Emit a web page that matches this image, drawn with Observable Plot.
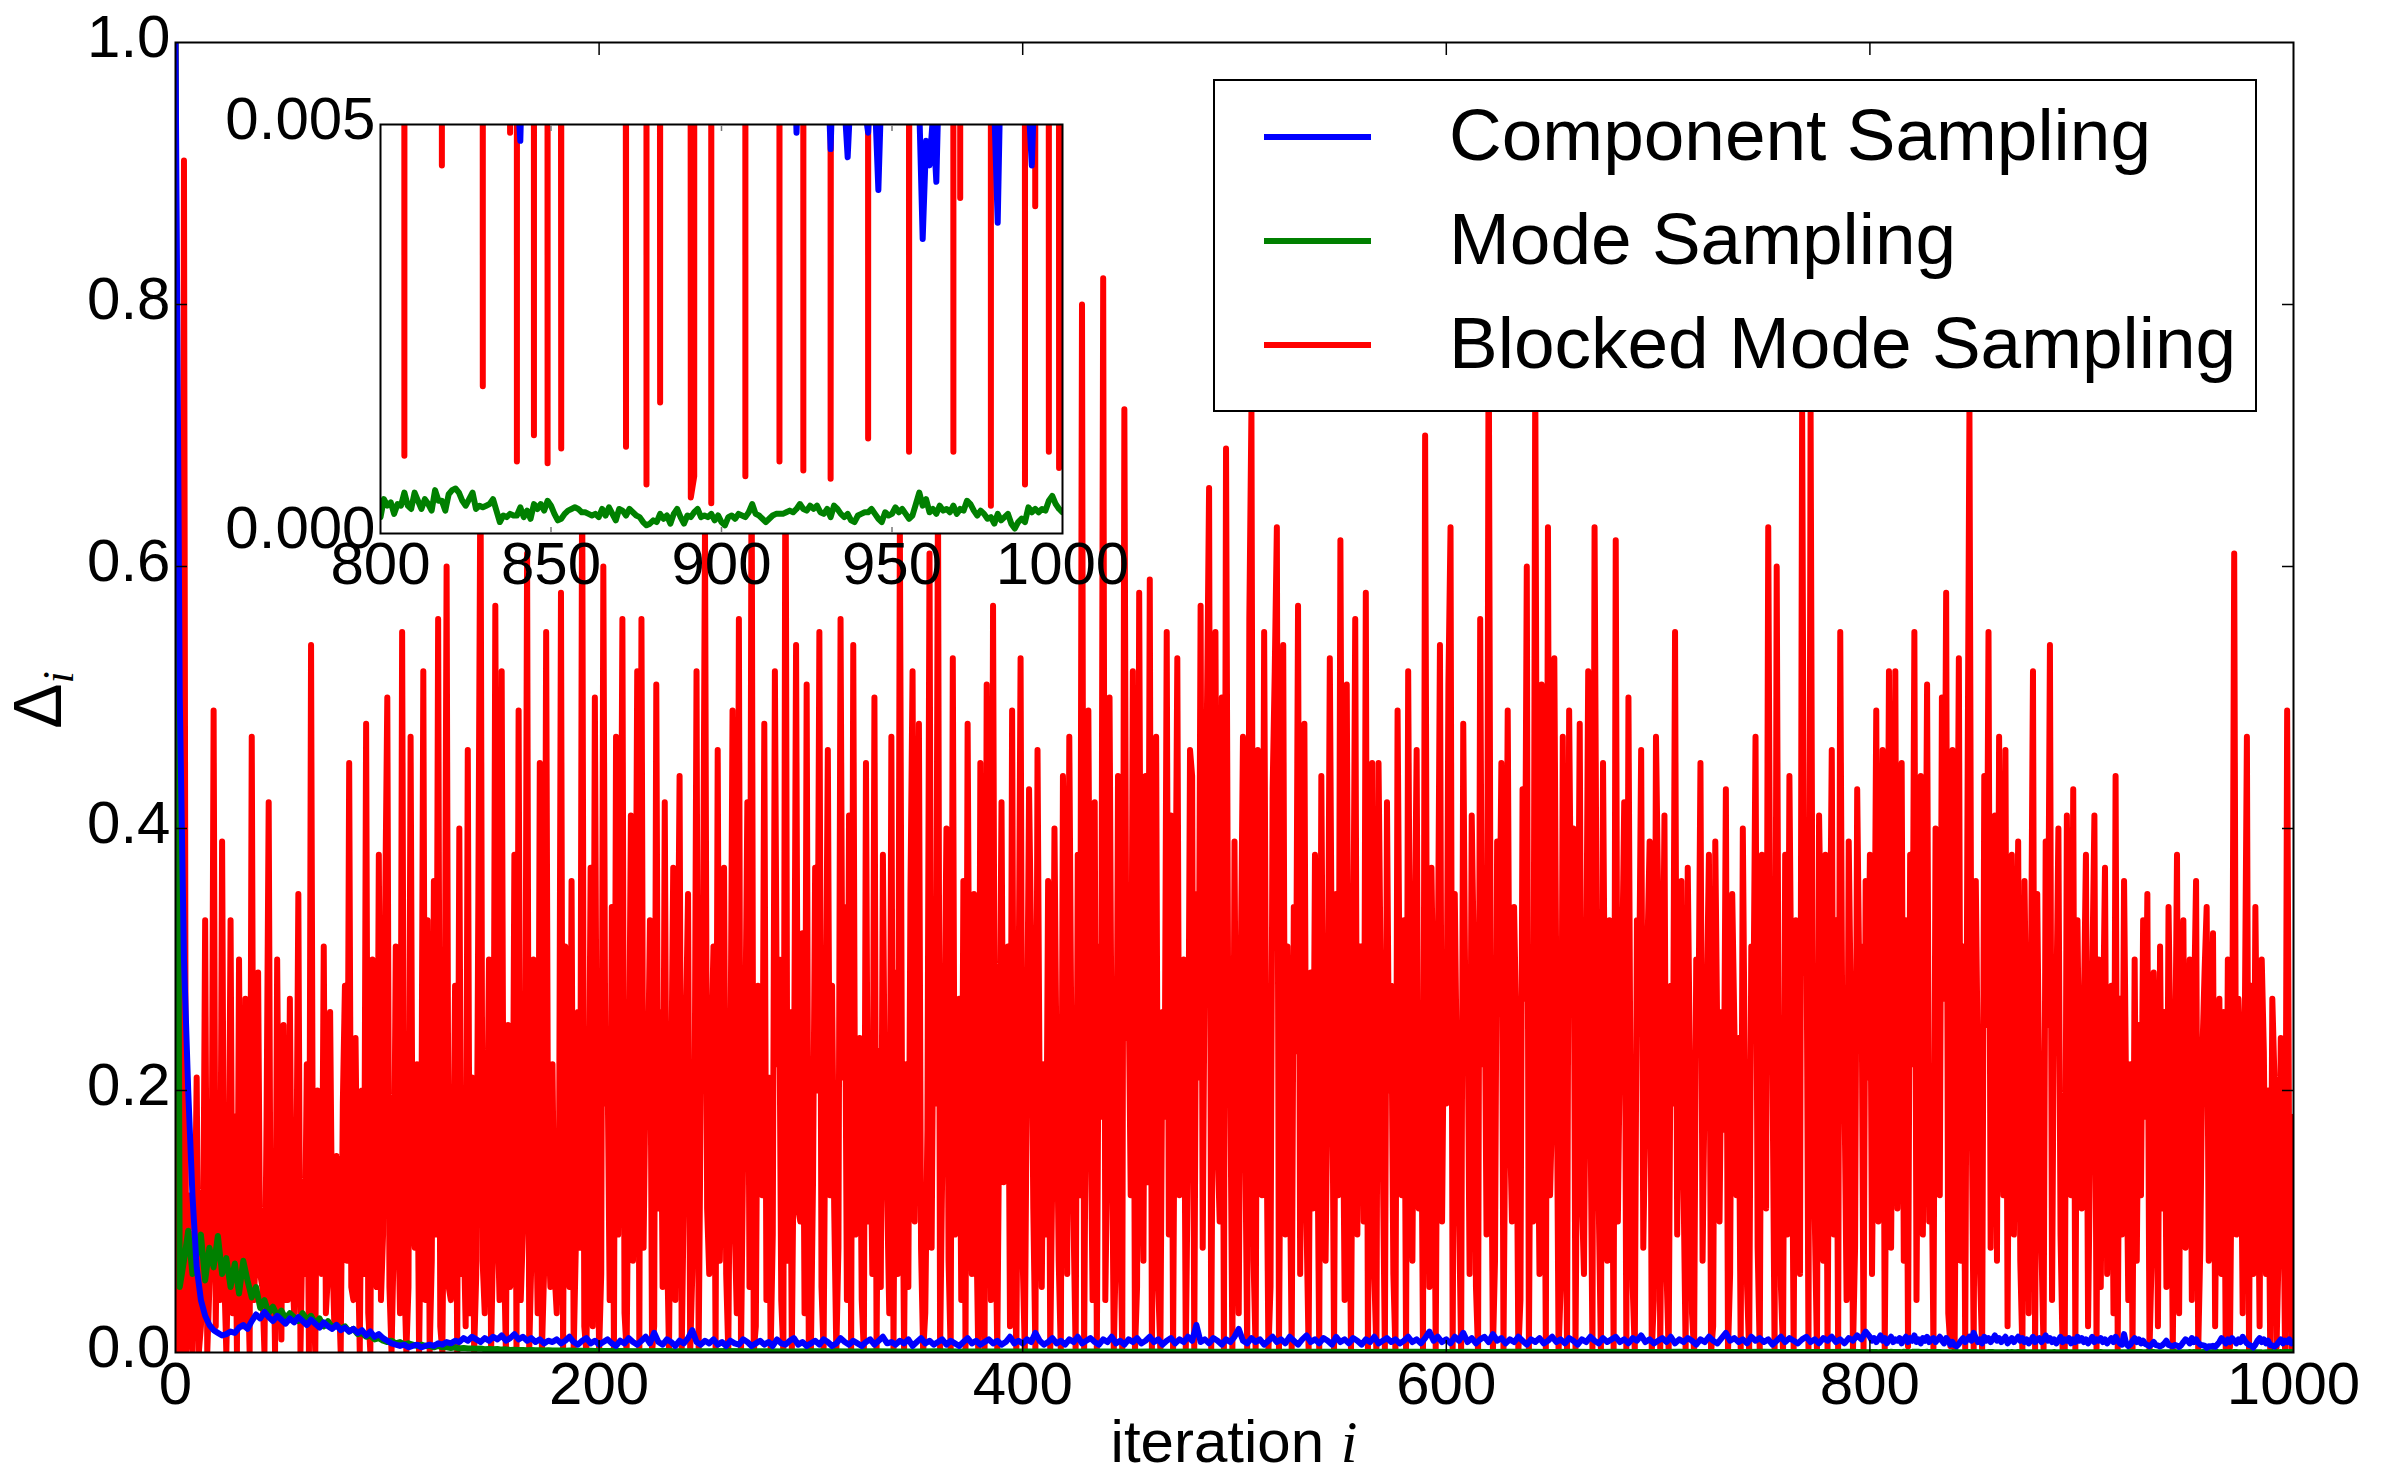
<!DOCTYPE html>
<html>
<head>
<meta charset="utf-8">
<script src="https://cdn.jsdelivr.net/npm/d3@7"></script>
<script src="https://cdn.jsdelivr.net/npm/@observablehq/plot@0.6"></script>
<style>
  html, body { margin: 0; padding: 0; background: #fff; }
  #wrap { position: relative; width: 2394px; height: 1474px; overflow: hidden; font-family: "Liberation Sans", Arial, sans-serif; color: #000; }
  #wrap > svg { position: absolute; }
  .legend { position: absolute; box-sizing: border-box; border: 2px solid #000; background: #fff; }
  .legend .row { position: absolute; left: 0; height: 0; }
  .legend .swatch { position: absolute; height: 6px; width: 107px; margin-top: -3px; }
  .legend .lab { position: absolute; font-size: 73px; line-height: 73px; margin-top: -39px; white-space: nowrap; }
  .xlabel { position: absolute; font-size: 60px; line-height: 44px; white-space: nowrap; transform: translateX(-50%); }
  .ylabel { position: absolute; font-size: 68px; line-height: 68px; white-space: nowrap; transform: translate(-50%, -50%) rotate(-90deg); }
  .mi { font-family: "Liberation Serif", "DejaVu Serif", serif; font-style: italic; }
</style>
</head>
<body>
<div id="wrap"></div>
<script>
// ---------------- DATA ----------------
const seriesNames = ["Component Sampling", "Mode Sampling", "Blocked Mode Sampling"];
const seriesColors = ["#0000ff", "#008000", "#ff0000"];
const xTicks = [0, 200, 400, 600, 800, 1000];
const yTicks = [0, 0.2, 0.4, 0.6, 0.8, 1.0];
const insetXTicks = [800, 850, 900, 950, 1000];
const insetYTicks = [0, 0.005];
const xLabel = "iteration";
const xLabelVar = "i";
const yLabelSym = "Δ";
const yLabelSub = "i";

// Blocked Mode Sampling, iterations 0..799 (one value per iteration, 20 per row)
const redEarly = [
  1.0, 0.0, 0.03, 0.0, 0.91, 0.0, 0.12, 0.02, 0.0, 0.08, 0.21, 0.0, 0.02, 0.06, 0.33, 0.0, 0.05, 0.09, 0.49, 0.02,
  0.15, 0.04, 0.39, 0.06, 0.0, 0.08, 0.33, 0.03, 0.18, 0.0, 0.30, 0.05, 0.02, 0.27, 0.07, 0.0, 0.47, 0.04, 0.08, 0.29,
  0.06, 0.05, 0.0, 0.18, 0.42, 0.03, 0.12, 0.0, 0.30, 0.09, 0.01, 0.25, 0.04, 0.04, 0.27, 0.07, 0.03, 0.11, 0.35, 0.0,
  0.10, 0.06, 0.22, 0.0, 0.54, 0.05, 0.0, 0.20, 0.07, 0.06, 0.31, 0.03, 0.06, 0.26, 0.08, 0.02, 0.15, 0.05, 0.0, 0.19,
  0.28, 0.07, 0.45, 0.05, 0.04, 0.24, 0.09, 0.0, 0.20, 0.06, 0.48, 0.03, 0.0, 0.30, 0.08, 0.05, 0.38, 0.04, 0.09, 0.34,
  0.50, 0.05, 0.0, 0.08, 0.31, 0.12, 0.03, 0.55, 0.06, 0.0, 0.05, 0.47, 0.10, 0.08, 0.22, 0.0, 0.12, 0.52, 0.04, 0.33,
  0.0, 0.07, 0.36, 0.09, 0.56, 0.02, 0.0, 0.18, 0.60, 0.05, 0.04, 0.11, 0.28, 0.0, 0.40, 0.06, 0.10, 0.02, 0.46, 0.03,
  0.21, 0.0, 0.06, 0.35, 0.69, 0.07, 0.03, 0.14, 0.30, 0.0, 0.09, 0.57, 0.11, 0.04, 0.52, 0.08, 0.0, 0.25, 0.05, 0.06,
  0.38, 0.0, 0.49, 0.04, 0.09, 0.12, 0.61, 0.0, 0.07, 0.30, 0.14, 0.03, 0.45, 0.0, 0.06, 0.55, 0.10, 0.05, 0.22, 0.06,
  0.03, 0.10, 0.58, 0.0, 0.31, 0.12, 0.05, 0.36, 0.0, 0.08, 0.26, 0.08, 0.68, 0.02, 0.0, 0.13, 0.37, 0.02, 0.50, 0.15,
  0.0, 0.06, 0.60, 0.19, 0.22, 0.04, 0.34, 0.0, 0.47, 0.09, 0.24, 0.56, 0.03, 0.0, 0.18, 0.41, 0.07, 0.21, 0.52, 0.0,
  0.56, 0.08, 0.22, 0.20, 0.33, 0.0, 0.02, 0.51, 0.11, 0.26, 0.05, 0.42, 0.09, 0.0, 0.19, 0.37, 0.04, 0.24, 0.44, 0.0,
  0.12, 0.25, 0.35, 0.0, 0.06, 0.15, 0.52, 0.0, 0.20, 0.29, 0.63, 0.11, 0.06, 0.23, 0.31, 0.0, 0.46, 0.07, 0.18, 0.37,
  0.06, 0.0, 0.21, 0.49, 0.10, 0.03, 0.56, 0.0, 0.15, 0.24, 0.42, 0.05, 0.70, 0.0, 0.02, 0.28, 0.19, 0.12, 0.48, 0.04,
  0.21, 0.0, 0.09, 0.52, 0.22, 0.30, 0.04, 0.0, 0.73, 0.07, 0.26, 0.0, 0.18, 0.54, 0.11, 0.10, 0.32, 0.03, 0.51, 0.0,
  0.0, 0.13, 0.37, 0.20, 0.55, 0.05, 0.0, 0.24, 0.46, 0.12, 0.28, 0.11, 0.0, 0.08, 0.56, 0.21, 0.34, 0.04, 0.41, 0.0,
  0.54, 0.09, 0.22, 0.24, 0.04, 0.0, 0.45, 0.10, 0.19, 0.06, 0.50, 0.0, 0.23, 0.05, 0.38, 0.17, 0.12, 0.03, 0.47, 0.0,
  0.29, 0.06, 0.63, 0.20, 0.0, 0.22, 0.05, 0.35, 0.52, 0.10, 0.25, 0.48, 0.08, 0.0, 0.03, 0.17, 0.61, 0.08, 0.31, 0.19,
  0.66, 0.0, 0.14, 0.23, 0.40, 0.07, 0.0, 0.53, 0.09, 0.21, 0.27, 0.04, 0.36, 0.0, 0.48, 0.18, 0.06, 0.35, 0.11, 0.0,
  0.45, 0.09, 0.0, 0.51, 0.20, 0.04, 0.57, 0.12, 0.0, 0.20, 0.42, 0.13, 0.24, 0.31, 0.02, 0.49, 0.08, 0.0, 0.25, 0.53,
  0.07, 0.0, 0.22, 0.43, 0.31, 0.11, 0.0, 0.46, 0.19, 0.05, 0.22, 0.09, 0.36, 0.0, 0.14, 0.40, 0.21, 0.07, 0.0, 0.44,
  0.33, 0.06, 0.47, 0.23, 0.10, 0.0, 0.38, 0.12, 0.80, 0.0, 0.25, 0.49, 0.20, 0.04, 0.42, 0.0, 0.31, 0.18, 0.82, 0.04,
  0.16, 0.50, 0.21, 0.0, 0.08, 0.44, 0.11, 0.0, 0.72, 0.24, 0.28, 0.12, 0.52, 0.0, 0.05, 0.58, 0.19, 0.07, 0.44, 0.13,
  0.59, 0.0, 0.22, 0.47, 0.05, 0.0, 0.26, 0.18, 0.55, 0.09, 0.41, 0.0, 0.29, 0.53, 0.12, 0.24, 0.30, 0.0, 0.15, 0.46,
  0.44, 0.0, 0.35, 0.21, 0.57, 0.08, 0.32, 0.49, 0.66, 0.0, 0.28, 0.55, 0.16, 0.10, 0.50, 0.0, 0.69, 0.27, 0.21, 0.0,
  0.39, 0.12, 0.03, 0.30, 0.47, 0.18, 0.0, 0.56, 0.72, 0.07, 0.0, 0.46, 0.25, 0.12, 0.55, 0.20, 0.0, 0.05, 0.43, 0.52,
  0.63, 0.0, 0.26, 0.54, 0.09, 0.31, 0.17, 0.0, 0.34, 0.23, 0.57, 0.06, 0.28, 0.48, 0.10, 0.0, 0.29, 0.11, 0.38, 0.20,
  0.0, 0.44, 0.19, 0.07, 0.22, 0.53, 0.27, 0.0, 0.35, 0.12, 0.62, 0.24, 0.04, 0.51, 0.18, 0.0, 0.27, 0.56, 0.09, 0.31,
  0.31, 0.10, 0.58, 0.0, 0.25, 0.45, 0.06, 0.0, 0.45, 0.29, 0.15, 0.0, 0.42, 0.20, 0.28, 0.06, 0.0, 0.49, 0.26, 0.12,
  0.33, 0.0, 0.52, 0.22, 0.07, 0.30, 0.46, 0.11, 0.25, 0.0, 0.70, 0.19, 0.05, 0.37, 0.24, 0.0, 0.29, 0.54, 0.10, 0.28,
  0.19, 0.51, 0.63, 0.0, 0.35, 0.21, 0.11, 0.0, 0.48, 0.26, 0.27, 0.06, 0.41, 0.30, 0.05, 0.0, 0.56, 0.22, 0.32, 0.09,
  0.80, 0.24, 0.0, 0.07, 0.39, 0.28, 0.45, 0.0, 0.22, 0.49, 0.18, 0.10, 0.34, 0.25, 0.0, 0.04, 0.43, 0.27, 0.60, 0.0,
  0.28, 0.10, 0.75, 0.23, 0.06, 0.51, 0.29, 0.0, 0.63, 0.12, 0.19, 0.53, 0.26, 0.0, 0.05, 0.47, 0.21, 0.0, 0.49, 0.30,
  0.40, 0.0, 0.24, 0.48, 0.12, 0.06, 0.27, 0.52, 0.20, 0.0, 0.63, 0.31, 0.11, 0.0, 0.45, 0.22, 0.07, 0.33, 0.26, 0.0,
  0.62, 0.10, 0.24, 0.29, 0.42, 0.0, 0.50, 0.18, 0.05, 0.0, 0.33, 0.27, 0.46, 0.08, 0.18, 0.31, 0.39, 0.0, 0.04, 0.47,
  0.35, 0.0, 0.21, 0.41, 0.06, 0.0, 0.28, 0.19, 0.55, 0.09, 0.26, 0.36, 0.13, 0.0, 0.37, 0.22, 0.03, 0.0, 0.30, 0.24,
  0.45, 0.07, 0.21, 0.27, 0.38, 0.0, 0.02, 0.39, 0.23, 0.10, 0.26, 0.17, 0.43, 0.0, 0.06, 0.35, 0.25, 0.12, 0.24, 0.0,
  0.40, 0.20, 0.05, 0.0, 0.31, 0.26, 0.47, 0.08, 0.0, 0.38, 0.22, 0.11, 0.63, 0.28, 0.22, 0.0, 0.60, 0.19, 0.05, 0.0,
  0.38, 0.09, 0.44, 0.25, 0.0, 0.33, 0.21, 0.06, 0.72, 0.29, 0.36, 0.0, 0.72, 0.24, 0.10, 0.0, 0.41, 0.30, 0.07, 0.38,
  0.0, 0.27, 0.46, 0.09, 0.33, 0.0, 0.55, 0.23, 0.20, 0.04, 0.39, 0.26, 0.0, 0.08, 0.43, 0.28, 0.31, 0.0, 0.36, 0.21
];
// Blocked Mode Sampling, iterations 800..1000
const redLate = [
  0.38, 0.06, 0.24, 0.49, 0.10, 0.28, 0.46, 0.00095, 0.21, 0.52,
  0.08, 0.30, 0.52, 0.11, 0.19, 0.45, 0.07, 0.33, 0.0045, 0.38,
  0.22, 0.55, 0.04, 0.29, 0.44, 0.09, 0.25, 0.51, 0.10, 0.18,
  0.0018, 0.40, 0.24, 0.12, 0.50, 0.27, 0.58, 0.03, 0.0049, 0.46,
  0.00088, 0.26, 0.53, 0.07, 0.31, 0.0012, 0.39, 0.72, 0.20, 0.00086,
  0.36, 0.21, 0.06, 0.00104, 0.44, 0.25, 0.55, 0.08, 0.29, 0.41,
  0.07, 0.47, 0.23, 0.12, 0.46, 0.02, 0.30, 0.38, 0.09, 0.24,
  0.39, 0.07, 0.00106, 0.36, 0.22, 0.03, 0.27, 0.52, 0.0006, 0.35,
  0.19, 0.08, 0.0016, 0.39, 0.25, 0.54, 0.04, 0.30, 0.26, 0.40,
  0.09, 0.00044, 0.0007, 0.41, 0.21, 0.12, 0.43, 0.00037, 0.33, 0.18,
  0.11, 0.26, 0.38, 0.02, 0.16, 0.29, 0.41, 0.0007, 0.30, 0.05,
  0.24, 0.37, 0.06, 0.20, 0.28, 0.03, 0.44, 0.00088, 0.27, 0.09,
  0.36, 0.19, 0.04, 0.22, 0.00077, 0.30, 0.07, 0.25, 0.12, 0.33,
  0.18, 0.35, 0.00067, 0.07, 0.29, 0.21, 0.02, 0.31, 0.11, 0.26,
  0.05, 0.34, 0.22, 0.00116, 0.19, 0.38, 0.03, 0.24, 0.33, 0.08,
  0.20, 0.30, 0.04, 0.26, 0.36, 0.0010, 0.08, 0.23, 0.29, 0.34,
  0.07, 0.21, 0.32, 0.02, 0.21, 0.27, 0.06, 0.26, 0.0010, 0.30,
  0.0041, 0.19, 0.61, 0.09, 0.27, 0.22, 0.03, 0.25, 0.47, 0.00034,
  0.28, 0.06, 0.34, 0.18, 0.02, 0.30, 0.23, 0.06, 0.20, 0.0006,
  0.27, 0.21, 0.0040, 0.08, 0.24, 0.17, 0.0010, 0.49, 0.12, 0.0008,
  0.18
];

// Component Sampling, iterations 0,2,4,...,798
const blueEarly = [
  1.0, 0.5, 0.3, 0.2, 0.12, 0.065, 0.04, 0.028, 0.021, 0.017,
  0.015, 0.013, 0.014, 0.016, 0.015, 0.019, 0.021, 0.018, 0.024, 0.029,
  0.026, 0.031, 0.027, 0.024, 0.028, 0.025, 0.022, 0.026, 0.023, 0.027,
  0.024, 0.021, 0.025, 0.022, 0.019, 0.023, 0.020, 0.018, 0.021, 0.017,
  0.019, 0.016, 0.018, 0.015, 0.017, 0.013, 0.016, 0.012, 0.014, 0.011,
  0.009, 0.007, 0.006, 0.005, 0.006, 0.004, 0.005, 0.006, 0.004, 0.005,
  0.006, 0.005, 0.007, 0.006, 0.008, 0.007, 0.009, 0.008, 0.011, 0.009,
  0.012, 0.010, 0.008, 0.011, 0.009, 0.012, 0.010, 0.013, 0.009, 0.011,
  0.014, 0.010, 0.012, 0.009, 0.011, 0.008, 0.010, 0.007, 0.009, 0.008,
  0.010, 0.007, 0.009, 0.012, 0.008, 0.006, 0.009, 0.011, 0.007, 0.009,
  0.006, 0.008, 0.010, 0.007, 0.005, 0.009, 0.007, 0.011, 0.008, 0.006,
  0.009, 0.012, 0.007, 0.015, 0.008, 0.006, 0.010, 0.008, 0.005, 0.009,
  0.007, 0.011, 0.017, 0.008, 0.006, 0.009, 0.007, 0.010, 0.006, 0.008,
  0.005, 0.009, 0.007, 0.006, 0.010, 0.008, 0.005, 0.007, 0.009, 0.006,
  0.008, 0.005, 0.010, 0.007, 0.006, 0.009, 0.011, 0.006, 0.008, 0.005,
  0.007, 0.009, 0.006, 0.010, 0.008, 0.005, 0.007, 0.011, 0.008, 0.006,
  0.009, 0.007, 0.005, 0.008, 0.010, 0.006, 0.009, 0.012, 0.007, 0.008,
  0.006, 0.009, 0.007, 0.010, 0.005, 0.008, 0.011, 0.007, 0.009, 0.006,
  0.008, 0.010, 0.006, 0.009, 0.007, 0.005, 0.008, 0.011, 0.007, 0.009,
  0.006, 0.008, 0.010, 0.007, 0.009, 0.006, 0.008, 0.012, 0.007, 0.009,
  0.007, 0.010, 0.008, 0.015, 0.009, 0.006, 0.008, 0.011, 0.007, 0.009,
  0.006, 0.010, 0.008, 0.012, 0.007, 0.009, 0.011, 0.008, 0.006, 0.010,
  0.008, 0.012, 0.007, 0.009, 0.006, 0.010, 0.008, 0.011, 0.007, 0.009,
  0.012, 0.008, 0.010, 0.006, 0.009, 0.011, 0.007, 0.010, 0.008, 0.012,
  0.009, 0.021, 0.008, 0.010, 0.007, 0.011, 0.009, 0.006, 0.010, 0.008,
  0.012, 0.018, 0.009, 0.007, 0.011, 0.008, 0.010, 0.006, 0.009, 0.012,
  0.008, 0.010, 0.007, 0.012, 0.009, 0.006, 0.010, 0.013, 0.008, 0.010,
  0.007, 0.011, 0.009, 0.006, 0.012, 0.008, 0.010, 0.007, 0.011, 0.009,
  0.006, 0.010, 0.008, 0.012, 0.007, 0.009, 0.011, 0.008, 0.010, 0.007,
  0.009, 0.012, 0.008, 0.010, 0.007, 0.011, 0.016, 0.009, 0.012, 0.008,
  0.010, 0.007, 0.012, 0.009, 0.015, 0.008, 0.011, 0.007, 0.010, 0.012,
  0.008, 0.014, 0.009, 0.011, 0.007, 0.010, 0.008, 0.012, 0.009, 0.006,
  0.010, 0.008, 0.011, 0.007, 0.009, 0.012, 0.008, 0.010, 0.007, 0.011,
  0.009, 0.006, 0.010, 0.008, 0.012, 0.009, 0.007, 0.011, 0.008, 0.010,
  0.012, 0.008, 0.010, 0.007, 0.011, 0.009, 0.013, 0.008, 0.010, 0.007,
  0.009, 0.011, 0.008, 0.012, 0.007, 0.010, 0.008, 0.011, 0.009, 0.006,
  0.010, 0.008, 0.012, 0.009, 0.007, 0.011, 0.015, 0.009, 0.011, 0.008,
  0.010, 0.007, 0.012, 0.009, 0.011, 0.008, 0.010, 0.006, 0.009, 0.012,
  0.008, 0.011, 0.009, 0.007, 0.010, 0.012, 0.008, 0.010, 0.007, 0.011,
  0.009, 0.012, 0.008, 0.010, 0.007, 0.011, 0.009, 0.013, 0.010, 0.016
];
// Component Sampling, iterations 800..1000
const blueLate = [
  0.012, 0.009, 0.011, 0.008, 0.010, 0.013, 0.009, 0.011, 0.007, 0.010,
  0.012, 0.008, 0.010, 0.009, 0.011, 0.007, 0.010, 0.012, 0.008, 0.011,
  0.009, 0.013, 0.008, 0.010, 0.007, 0.011, 0.009, 0.012, 0.008, 0.010,
  0.011, 0.008, 0.010, 0.012, 0.009, 0.007, 0.011, 0.009, 0.006, 0.008,
  0.0055, 0.0048, 0.0065, 0.009, 0.011, 0.008, 0.010, 0.012, 0.009, 0.015,
  0.011, 0.008, 0.010, 0.007, 0.012, 0.009, 0.011, 0.008, 0.010, 0.013,
  0.009, 0.011, 0.008, 0.010, 0.012, 0.007, 0.009, 0.011, 0.008, 0.010,
  0.012, 0.009, 0.011, 0.008, 0.010, 0.007, 0.009, 0.012, 0.008, 0.010,
  0.011, 0.008, 0.010, 0.013, 0.009, 0.011, 0.008, 0.010, 0.007, 0.009,
  0.012, 0.008, 0.010, 0.009, 0.011, 0.007, 0.010, 0.008, 0.012, 0.009,
  0.011, 0.008, 0.010, 0.007, 0.009, 0.012, 0.008, 0.010, 0.009, 0.011,
  0.008, 0.010, 0.007, 0.009, 0.011, 0.008, 0.012, 0.009, 0.007, 0.006,
  0.014, 0.0065, 0.0049, 0.0062, 0.009, 0.011, 0.008, 0.010, 0.007, 0.009,
  0.0065, 0.0058, 0.0047, 0.0061, 0.008, 0.0056, 0.0053, 0.0046, 0.0055, 0.007,
  0.009, 0.0058, 0.0052, 0.0049, 0.0057, 0.0053, 0.0042, 0.0056, 0.008, 0.010,
  0.009, 0.007, 0.011, 0.008, 0.010, 0.0075, 0.006, 0.0055, 0.0052, 0.0036,
  0.0048, 0.0045, 0.0051, 0.0043, 0.006, 0.008, 0.011, 0.009, 0.007, 0.010,
  0.008, 0.011, 0.009, 0.007, 0.010, 0.008, 0.012, 0.009, 0.007, 0.0058,
  0.0052, 0.0038, 0.006, 0.009, 0.011, 0.008, 0.010, 0.007, 0.009, 0.0056,
  0.0053, 0.0045, 0.0058, 0.008, 0.010, 0.007, 0.009, 0.008, 0.010, 0.007,
  0.008
];

// Mode Sampling, iterations 0,2,4,...,198
const greenEarly = [
  1.0, 0.05, 0.07, 0.093, 0.06, 0.075, 0.09, 0.055, 0.08, 0.065,
  0.089, 0.06, 0.072, 0.05, 0.068, 0.045, 0.07, 0.055, 0.042, 0.05,
  0.034, 0.04, 0.03, 0.035, 0.028, 0.032, 0.026, 0.03, 0.027, 0.024,
  0.03, 0.025, 0.028, 0.022, 0.026, 0.02, 0.024, 0.019, 0.021, 0.018,
  0.02, 0.016, 0.018, 0.014, 0.015, 0.012, 0.013, 0.01, 0.011, 0.009,
  0.008, 0.009, 0.007, 0.008, 0.006, 0.007, 0.006, 0.005, 0.006, 0.005,
  0.005, 0.004, 0.005, 0.004, 0.004, 0.0035, 0.004, 0.003, 0.0035, 0.003,
  0.003, 0.0028, 0.003, 0.0025, 0.0027, 0.0024, 0.0026, 0.0022, 0.0024, 0.002,
  0.0021, 0.002, 0.0019, 0.0018, 0.0019, 0.0017, 0.0018, 0.0016, 0.0017, 0.0015,
  0.0016, 0.0015, 0.0014, 0.0015, 0.0013, 0.0014, 0.0013, 0.0012, 0.0013, 0.0012
];
// Mode Sampling, iterations 200,210,...,790
const greenMid = [
  0.0011, 0.0012, 0.0010, 0.0011, 0.0009, 0.0010, 0.0011, 0.0009, 0.0010, 0.0008,
  0.0009, 0.0010, 0.0008, 0.0009, 0.0008, 0.0007, 0.0009, 0.0008, 0.0007, 0.0008,
  0.0007, 0.0008, 0.0006, 0.0007, 0.0008, 0.0006, 0.0007, 0.0006, 0.0007, 0.0005,
  0.0006, 0.0007, 0.0005, 0.0006, 0.0005, 0.0006, 0.0004, 0.0005, 0.0006, 0.0005,
  0.0004, 0.0005, 0.0004, 0.0005, 0.0006, 0.0004, 0.0005, 0.0004, 0.0005, 0.0003,
  0.0004, 0.0005, 0.0004, 0.0003, 0.0004, 0.0005, 0.0004, 0.0003, 0.0004, 0.0005
];
// Mode Sampling, iterations 800..1000
const greenLate = [
  0.00020, 0.00042, 0.00034, 0.00038, 0.00024, 0.00036, 0.00034, 0.00050, 0.00034, 0.00030,
  0.00050, 0.00040, 0.00030, 0.00042, 0.00036, 0.00028, 0.00053, 0.00040, 0.00040, 0.00028,
  0.00048, 0.00053, 0.00055, 0.00050, 0.00040, 0.00034, 0.00042, 0.00050, 0.00030, 0.00034,
  0.00032, 0.00034, 0.00036, 0.00042, 0.00028, 0.00014, 0.00022, 0.00020, 0.00024, 0.00022,
  0.00022, 0.00032, 0.00020, 0.00028, 0.00018, 0.00036, 0.00030, 0.00036, 0.00028, 0.00040,
  0.00034, 0.00024, 0.00016, 0.00018, 0.00024, 0.00028, 0.00030, 0.00032, 0.00030, 0.00026,
  0.00026, 0.00024, 0.00022, 0.00024, 0.00020, 0.00030, 0.00022, 0.00032, 0.00024, 0.00016,
  0.00030, 0.00028, 0.00022, 0.00030, 0.00026, 0.00022, 0.00020, 0.00014, 0.00010, 0.00012,
  0.00016, 0.00014, 0.00024, 0.00018, 0.00022, 0.00012, 0.00024, 0.00030, 0.00020, 0.00012,
  0.00022, 0.00020, 0.00026, 0.00030, 0.00020, 0.00022, 0.00020, 0.00024, 0.00016, 0.00022,
  0.00014, 0.00010, 0.00020, 0.00022, 0.00018, 0.00024, 0.00022, 0.00020, 0.00026, 0.00036,
  0.00024, 0.00022, 0.00018, 0.00014, 0.00018, 0.00022, 0.00024, 0.00024, 0.00024, 0.00026,
  0.00028, 0.00026, 0.00030, 0.00036, 0.00030, 0.00028, 0.00034, 0.00030, 0.00034, 0.00026,
  0.00024, 0.00030, 0.00020, 0.00034, 0.00030, 0.00024, 0.00020, 0.00024, 0.00016, 0.00014,
  0.00022, 0.00024, 0.00026, 0.00026, 0.00030, 0.00024, 0.00018, 0.00014, 0.00026, 0.00022,
  0.00024, 0.00032, 0.00026, 0.00030, 0.00024, 0.00018, 0.00022, 0.00036, 0.00050, 0.00034,
  0.00042, 0.00026, 0.00030, 0.00024, 0.00034, 0.00028, 0.00030, 0.00026, 0.00034, 0.00024,
  0.00030, 0.00028, 0.00040, 0.00036, 0.00028, 0.00022, 0.00028, 0.00024, 0.00018, 0.00020,
  0.00012, 0.00024, 0.00016, 0.00020, 0.00024, 0.00012, 0.00006, 0.00014, 0.00018, 0.00014,
  0.00032, 0.00026, 0.00030, 0.00026, 0.00030, 0.00028, 0.00040, 0.00046, 0.00036, 0.00030,
  0.00026
];

// ---------------- BUILD ----------------
function seq(values, start, step) {
  return values.map((v, k) => ({ i: start + k * step, v }));
}
const blueAll = [...seq(blueEarly, 0, 2), ...seq(blueLate, 800, 1)];
const greenAll = [...seq(greenEarly, 0, 2), ...seq(greenMid, 200, 10), ...seq(greenLate, 800, 1)];
const redAll = [...seq(redEarly, 0, 1), ...seq(redLate, 800, 1)];
const blueInset = seq(blueLate, 800, 1);
const greenInset = seq(greenLate, 800, 1);
const redInset = seq(redLate, 800, 1);

const LW = 6;
const lineOpts = (color) => ({ x: "i", y: "v", stroke: color, strokeWidth: LW, strokeLinejoin: "round", strokeLinecap: "round", clip: true });
const blank = () => "";
const font = "'Liberation Sans', Arial, sans-serif";

const wrap = document.getElementById("wrap");

const main = Plot.plot({
  width: 2394,
  height: 1474,
  marginLeft: 175,
  marginRight: 101,
  marginTop: 42,
  marginBottom: 122,
  x: { domain: [0, 1000] },
  y: { domain: [0, 1] },
  style: { fontFamily: font, fontSize: "60px", color: "#000", background: "#fff" },
  marks: [
    Plot.line(redAll, lineOpts(seriesColors[2])),
    Plot.line(greenAll, lineOpts(seriesColors[1])),
    Plot.line(blueAll, lineOpts(seriesColors[0])),
    Plot.frame({ stroke: "#000", strokeWidth: 2 }),
    Plot.axisX({ ticks: xTicks, tickSize: 0, tickPadding: 9, tickFormat: "d", label: null, fontSize: 60 }),
    Plot.axisX({ ticks: xTicks.slice(1, -1), tickSize: -12, tickFormat: blank, label: null, strokeWidth: 1.5 }),
    Plot.axisX({ ticks: xTicks.slice(1, -1), anchor: "top", tickSize: -12, tickFormat: blank, label: null, strokeWidth: 1.5 }),
    Plot.axisY({ ticks: yTicks, tickSize: 0, tickPadding: 5, tickFormat: ".1f", label: null, fontSize: 60, dy: -5 }),
    Plot.axisY({ ticks: yTicks.slice(1, -1), tickSize: -12, tickFormat: blank, label: null, strokeWidth: 1.5 }),
    Plot.axisY({ ticks: yTicks.slice(1, -1), anchor: "right", tickSize: -12, tickFormat: blank, label: null, strokeWidth: 1.5 })
  ]
});
main.style.left = "0px";
main.style.top = "0px";
wrap.appendChild(main);

// inset
const inset = Plot.plot({
  width: 902,
  height: 509,
  marginLeft: 170,
  marginTop: 20,
  marginRight: 50,
  marginBottom: 80,
  x: { domain: [800, 1000] },
  y: { domain: [0, 0.005] },
  style: { fontFamily: font, fontSize: "60px", color: "#000", background: "transparent", overflow: "visible" },
  marks: [
    Plot.frame({ fill: "#fff" }),
    Plot.line(redInset, lineOpts(seriesColors[2])),
    Plot.line(greenInset, lineOpts(seriesColors[1])),
    Plot.line(blueInset, lineOpts(seriesColors[0])),
    Plot.frame({ stroke: "#000", strokeWidth: 2 }),
    Plot.axisX({ ticks: insetXTicks, tickSize: 0, tickPadding: 8, tickFormat: "d", label: null, fontSize: 60 }),
    Plot.axisX({ ticks: insetXTicks.slice(1, -1), tickSize: -6, tickFormat: blank, label: null, stroke: "#777", strokeWidth: 1.5 }),
    Plot.axisX({ ticks: insetXTicks.slice(1, -1), anchor: "top", tickSize: -6, tickFormat: blank, label: null, stroke: "#777", strokeWidth: 1.5 }),
    Plot.axisY({ ticks: insetYTicks, tickSize: 0, tickPadding: 5, tickFormat: ".3f", label: null, fontSize: 60, dy: -5 })
  ]
});
inset.style.left = "210px";
inset.style.top = "104px";
wrap.appendChild(inset);

// legend
const legend = document.createElement("div");
legend.className = "legend";
legend.style.left = "1213px";
legend.style.top = "79px";
legend.style.width = "1044px";
legend.style.height = "333px";
seriesNames.forEach((name, k) => {
  const row = document.createElement("div");
  row.className = "row";
  row.style.top = (56 + k * 104) + "px";
  const sw = document.createElement("div");
  sw.className = "swatch";
  sw.style.left = "49px";
  sw.style.background = seriesColors[k];
  const lab = document.createElement("div");
  lab.className = "lab";
  lab.style.left = "234px";
  lab.textContent = name;
  row.appendChild(sw);
  row.appendChild(lab);
  legend.appendChild(row);
});
wrap.appendChild(legend);

// axis titles
const xl = document.createElement("div");
xl.className = "xlabel";
xl.style.left = "1234px";
xl.style.top = "1420px";
xl.innerHTML = xLabel + " <span class='mi'>" + xLabelVar + "</span>";
wrap.appendChild(xl);

const yl = document.createElement("div");
yl.className = "ylabel";
yl.style.left = "48px";
yl.style.top = "700px";
yl.innerHTML = yLabelSym + "<sub class='mi' style='font-size:44px;vertical-align:-12px'>" + yLabelSub + "</sub>";
wrap.appendChild(yl);
</script>
</body>
</html>
